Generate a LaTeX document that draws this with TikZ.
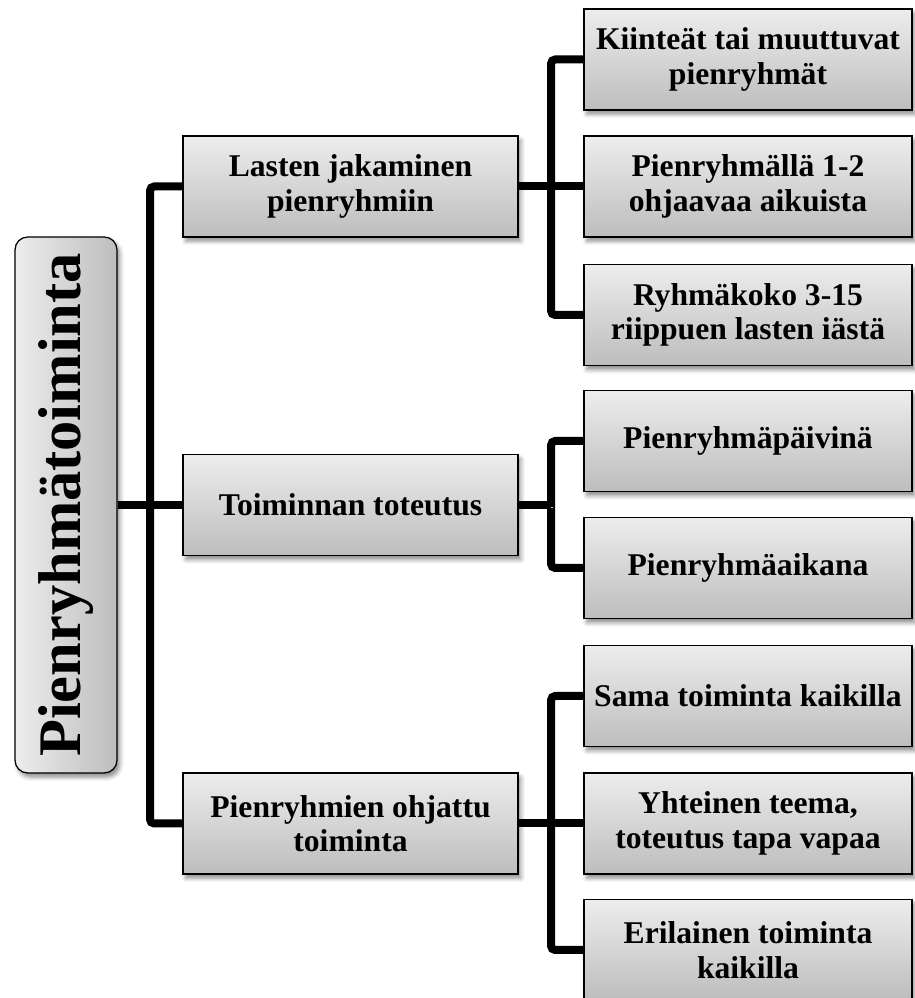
\documentclass[tikz,border=0pt]{standalone}
\usepackage{xcolor}
\usepackage{fontspec}
\setmainfont{Liberation Serif}
\usepackage{tikz}
\usetikzlibrary{positioning,calc,shadows.blur,backgrounds}
\definecolor{BoxLight}{HTML}{EDEDED}
\definecolor{BoxDark}{HTML}{BDBDBD}

\begin{document}
\begin{tikzpicture}[
  rootbox/.style={
    draw=black, line width=0.9pt, rounded corners=0.32cm,
    left color=BoxLight, right color=BoxDark,
    minimum width=2.55cm, minimum height=13.4cm, inner sep=0pt,
    font=\fontsize{43}{46}\selectfont\bfseries,
    blur shadow={shadow xshift=2pt, shadow yshift=-3pt, shadow blur radius=3pt, shadow opacity=45}
  },
  topicbox/.style={
    draw=black, line width=0.9pt,
    top color=BoxLight, bottom color=BoxDark,
    align=center, inner sep=2pt,
    font=\fontsize{22.5}{24.5}\selectfont\bfseries,
    blur shadow={shadow xshift=2pt, shadow yshift=-3pt, shadow blur radius=3pt, shadow opacity=45}
  },
  midbox/.style={topicbox, minimum width=8.375cm, minimum height=2.525cm},
  leafbox/.style={topicbox, minimum width=8.2cm, minimum height=2.525cm},
  conn/.style={
    draw=black, line width=0.2cm, rounded corners=3pt,
    preaction={draw=black!22, transform canvas={xshift=1.5pt, yshift=-1.5pt}}
  },
]
\useasboundingbox (0,0) rectangle (22.875,24.95);

% ---------- Junction points of the tree ----------
\coordinate (jA) at (3.75,12.325);
\coordinate (jB) at (13.775,20.2875);
\coordinate (jC) at (13.775,12.325);
\coordinate (jD) at (13.775,4.3625);

% ---------- Root (rotated title) ----------
\node[rootbox] (root) at (1.65,12.325) {\rotatebox{90}{Pienryhmätoiminta}};

% ---------- Middle column ----------
\node[midbox] (mid1) at (8.7625,20.2875) {Lasten jakaminen\\pienryhmiin};
\node[midbox] (mid2) at (8.7625,12.325)  {Toiminnan toteutus};
\node[midbox] (mid3) at (8.7625,4.3625)  {Pienryhmien ohjattu\\toiminta};

% ---------- Right column ----------
\node[leafbox] (leaf1) at (18.7,23.4625) {Kiinteät tai muuttuvat\\pienryhmät};
\node[leafbox] (leaf2) at (18.7,20.2875) {Pienryhmällä 1-2\\ohjaavaa aikuista};
\node[leafbox] (leaf3) at (18.7,17.075)  {Ryhmäkoko 3-15\\riippuen lasten iästä};
\node[leafbox] (leaf4) at (18.7,13.925)  {Pienryhmäpäivinä};
\node[leafbox] (leaf5) at (18.7,10.75)   {Pienryhmäaikana};
\node[leafbox] (leaf6) at (18.7,7.55)    {Sama toiminta kaikilla};
\node[leafbox] (leaf7) at (18.7,4.3625)  {Yhteinen teema,\\toteutus tapa vapaa};
\node[leafbox] (leaf8) at (18.7,1.2)     {Erilainen toiminta\\kaikilla};

% ---------- Tree lines (behind the boxes) ----------
\begin{scope}[on background layer]
  % root -> middle column
  \draw[conn] (mid1.west) -| (jA) |- (mid3.west);
  \draw[conn] (root.east) -- (mid2.west);
  % middle -> right column
  \draw[conn] (leaf1.west) -| (jB) |- (leaf3.west);
  \draw[conn] (mid1.east) -- (leaf2.west);
  \draw[conn] (leaf4.west) -| (jC) |- (leaf5.west);
  \draw[conn] (mid2.east) -- (jC);
  \draw[conn] (leaf6.west) -| (jD) |- (leaf8.west);
  \draw[conn] (mid3.east) -- (leaf7.west);
\end{scope}

\end{tikzpicture}
\end{document}
